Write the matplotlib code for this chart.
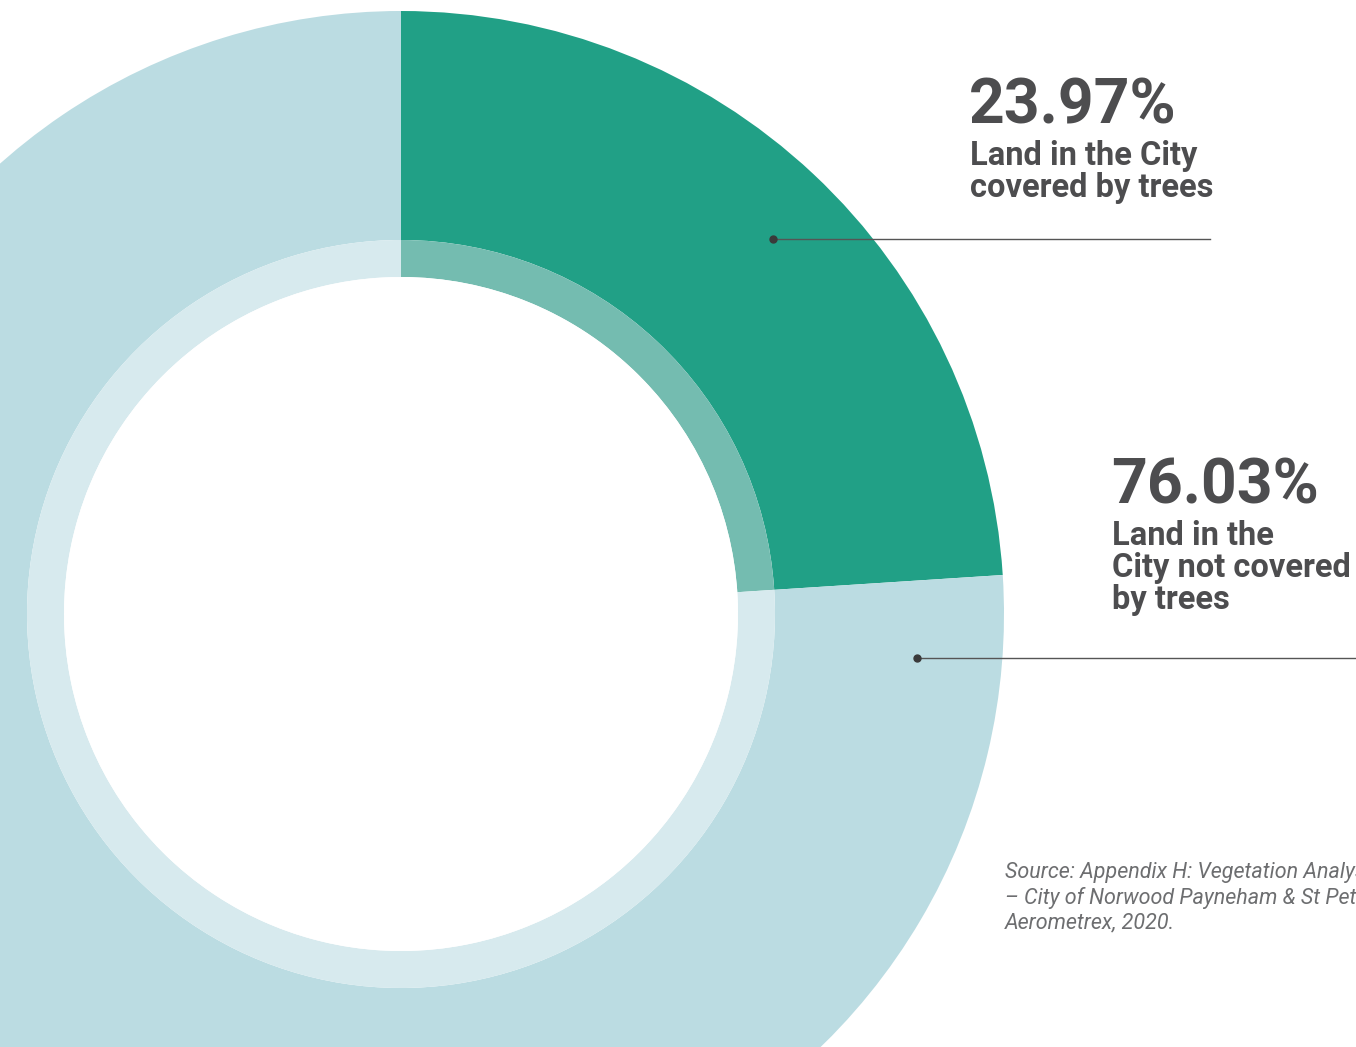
import numpy as np
import matplotlib.pyplot as plt
from matplotlib.patches import Wedge, Circle

# data
shares = [23.97, 76.03]
pct_labels = ["23.97%", "76.03%"]
desc_labels = ["Land in the City\ncovered by trees", "Land in the\nCity not covered\nby trees"]
outer_colors = ["#21a086", "#bbdce2"]
inner_colors = ["#74bcb0", "#d7eaee"]
source = "Source: Appendix H: Vegetation Analysis\n\u2013 City of Norwood Payneham & St Peters\nAerometrex, 2020."

W, H = 1356, 1047
fig = plt.figure(figsize=(W / 100, H / 100), dpi=100)
ax = fig.add_axes([0, 0, 1, 1])
ax.set_xlim(0, W)
ax.set_ylim(0, H)
ax.axis("off")

cx, cy = 401, H - 614
r_out, r_mid, r_in = 603, 374, 337

# wedges go clockwise from 12 o'clock
angles = []
start = 90
for s in shares:
    end = start - s / 100 * 360
    angles.append((end, start))
    start = end

for (t1, t2), oc, ic in zip(angles, outer_colors, inner_colors):
    ax.add_patch(Wedge((cx, cy), r_out, t1, t2, width=r_out - r_mid, facecolor=oc, edgecolor="none"))
    ax.add_patch(Wedge((cx, cy), r_mid, t1, t2, width=r_mid - r_in, facecolor=ic, edgecolor="none"))
ax.add_patch(Circle((cx, cy), r_in, facecolor="white", edgecolor="none"))

# leader lines
text_col = "#4d4d4f"
dot_pos = [(45.2, 528), (-4.9, 518)]
line_end = [1210, 1360]
text_x = [969, 1111]
pct_y = [H - 124, H - 504]
for (a, r), xe, tx, py, pl, dl in zip(dot_pos, line_end, text_x, pct_y, pct_labels, desc_labels):
    px = cx + r * np.cos(np.radians(a))
    pyy = cy + r * np.sin(np.radians(a))
    ax.plot([px, xe], [pyy, pyy], color="#555555", lw=1)
    ax.plot(px, pyy, "o", color="#3a3a3a", ms=5)
    ax.text(tx, py, pl, fontsize=45, fontweight="bold", color=text_col,
            family="Roboto", va="baseline", ha="left")
    ax.text(tx + 1, py - 16, dl, fontsize=23.5, fontweight="bold", color=text_col,
            family="Roboto", va="top", ha="left", linespacing=1.0)

ax.text(1005, H - 862, source, fontsize=15.5, style="italic", fontweight="normal",
        color="#6d6e70", family="Roboto", va="top", ha="left", linespacing=1.22)

fig.savefig("out.png", dpi=100)
